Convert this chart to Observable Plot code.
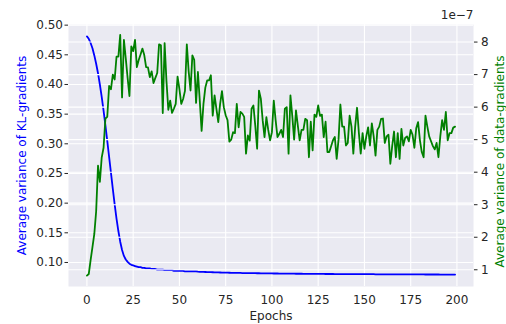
<!DOCTYPE html>
<html>
<head>
<meta charset="utf-8">
<script src="https://cdn.jsdelivr.net/npm/d3@7"></script>
<script src="https://cdn.jsdelivr.net/npm/@observablehq/plot@0.6"></script>
<style>
  html, body { margin: 0; padding: 0; background: #ffffff; }
  #chart { position: relative; width: 506px; height: 324px; }
  #chart svg { position: absolute; left: 0; top: 0; }
</style>
</head>
<body>
<div id="chart"></div>
<script>
// Average variance of the KL-term gradients per epoch (left axis)
const klVariance = [
  0.481,0.477,0.470,0.461,0.449,0.435,0.419,0.400,0.379,0.356,
  0.331,0.305,0.278,0.251,0.224,0.198,0.174,0.153,0.135,0.121,
  0.111,0.105,0.101,0.098,0.096,0.095,0.094,0.093,0.092,0.092,
  0.091,0.091,0.090,0.090,0.090,0.089,0.089,0.089,0.088,0.088,
  0.088,0.088,0.087,0.087,0.087,0.087,0.087,0.086,0.086,0.086,
  0.086,0.086,0.086,0.085,0.085,0.085,0.085,0.085,0.085,0.085,
  0.0845,0.0843,0.0842,0.0840,0.0839,0.0838,0.0837,0.0836,0.0835,0.0834,
  0.0833,0.0832,0.0831,0.0830,0.0829,0.0829,0.0828,0.0827,0.0826,0.0826,
  0.0825,0.0824,0.0824,0.0823,0.0822,0.0822,0.0821,0.0821,0.0820,0.0820,
  0.0819,0.0819,0.0818,0.0818,0.0817,0.0817,0.0816,0.0816,0.0816,0.0815,
  0.0815,0.0814,0.0814,0.0814,0.0813,0.0813,0.0813,0.0812,0.0812,0.0812,
  0.0811,0.0811,0.0811,0.0810,0.0810,0.0810,0.0810,0.0809,0.0809,0.0809,
  0.0809,0.0808,0.0808,0.0808,0.0808,0.0807,0.0807,0.0807,0.0807,0.0806,
  0.0806,0.0806,0.0806,0.0806,0.0805,0.0805,0.0805,0.0805,0.0805,0.0804,
  0.0804,0.0804,0.0804,0.0804,0.0803,0.0803,0.0803,0.0803,0.0803,0.0803,
  0.0802,0.0802,0.0802,0.0802,0.0802,0.0802,0.0801,0.0801,0.0801,0.0801,
  0.0801,0.0801,0.0800,0.0800,0.0800,0.0800,0.0800,0.0800,0.0800,0.0799,
  0.0799,0.0799,0.0799,0.0799,0.0799,0.0799,0.0798,0.0798,0.0798,0.0798,
  0.0798,0.0798,0.0798,0.0797,0.0797,0.0797,0.0797,0.0797,0.0797,0.0797,
  0.0797,0.0796,0.0796,0.0796,0.0796,0.0796,0.0796,0.0796,0.0796,0.0796
];

// Average variance of the data-term gradients per epoch, in units of 1e-7 (right axis)
const dataVariance = [
  0.82,0.87,1.30,1.70,2.10,2.80,4.20,3.70,4.45,4.75,
  5.65,5.70,6.65,6.55,7.00,6.85,7.55,7.55,8.22,6.30,
  8.07,7.50,6.90,6.34,7.87,7.72,8.07,7.23,7.45,7.62,
  7.80,7.60,7.23,7.22,6.92,7.10,6.74,6.90,7.05,7.93,
  7.90,5.82,7.97,6.80,5.92,6.20,5.82,5.95,6.10,6.94,
  6.55,6.10,6.25,6.50,7.93,7.10,6.51,7.59,7.45,6.13,
  7.08,6.20,5.27,6.10,6.60,6.82,6.82,6.98,5.74,6.36,
  5.95,5.54,6.10,6.49,6.00,5.75,5.60,4.94,5.00,5.23,
  5.20,6.10,5.38,5.85,5.80,5.70,4.57,5.13,4.97,5.95,
  6.05,5.43,4.72,6.51,6.26,5.60,5.08,5.69,5.30,4.98,
  5.23,6.20,5.60,5.08,5.18,5.30,5.08,5.95,6.00,4.57,
  6.36,5.73,5.00,5.90,5.43,4.98,5.30,5.30,5.64,5.60,
  4.46,5.55,4.67,5.77,5.70,6.05,5.73,5.77,5.08,5.55,
  4.62,4.62,4.80,4.98,5.08,4.41,5.00,6.08,5.40,5.40,
  4.82,4.90,5.74,5.40,4.57,5.40,5.98,5.20,4.57,5.20,
  4.72,5.10,5.38,4.82,5.50,5.10,4.51,5.30,5.40,5.64,
  5.65,4.90,5.10,5.15,4.26,4.80,5.25,4.46,5.20,4.41,
  5.33,4.82,5.05,5.10,4.95,5.30,5.15,4.75,5.35,5.54,
  4.98,4.62,4.46,5.74,5.40,5.10,4.95,4.80,4.70,4.90,
  4.46,5.10,5.60,5.30,5.85,4.98,5.20,5.20,5.37,5.40
];

const epochTicks = [0, 25, 50, 75, 100, 125, 150, 175, 200];
const klTicks = [0.10, 0.15, 0.20, 0.25, 0.30, 0.35, 0.40, 0.45, 0.50];
const dataTicks = [1, 2, 3, 4, 5, 6, 7, 8];

const klRows = klVariance.map((v, i) => ({epoch: i, value: v}));
const dataRows = dataVariance.map((v, i) => ({epoch: i, value: v}));

const W = 506, H = 324;
const margins = {marginLeft: 68, marginRight: 33, marginTop: 24, marginBottom: 38};
const xScale = {domain: [-9.95, 208.95]};
const font = {fontFamily: "DejaVu Sans", fontSize: "12px", color: "#262626", background: "transparent", overflow: "visible"};
const ink = "#262626";
const fs = 12;

// Base layer: grey panel, its grid, the KL curve and the left axis
const base = Plot.plot({
  width: W, height: H, ...margins,
  style: font,
  x: {...xScale},
  y: {domain: [0.0595, 0.5011]},
  marks: [
    Plot.frame({fill: "#EAEAF2", stroke: null}),
    Plot.gridX(epochTicks, {stroke: "#ffffff", strokeOpacity: 1, strokeWidth: 1.1}),
    Plot.gridY(klTicks, {stroke: "#ffffff", strokeOpacity: 1, strokeWidth: 1.1}),
    Plot.line(klRows, {x: "epoch", y: "value", stroke: "#0000ff", strokeWidth: 1.8}),
    Plot.axisX(epochTicks, {tickSize: 0, tickPadding: 9, label: null, fill: ink, fontSize: fs}),
    Plot.axisY(klTicks, {tickSize: 3.5, tickPadding: 2, tickFormat: ".2f", label: null, stroke: ink, fill: ink, fontSize: fs}),
    Plot.text(["Average variance of KL-gradients"], {frameAnchor: "left", rotate: -90, dx: -46, fill: "#0000ff", textAnchor: "middle", fontSize: fs}),
    Plot.text(["Epochs"], {frameAnchor: "bottom", dy: 30, fill: ink, lineAnchor: "middle", fontSize: fs})
  ]
});

// Twin layer: right axis, its grid and the data-gradient curve
const twin = Plot.plot({
  width: W, height: H, ...margins,
  style: font,
  x: {...xScale, axis: null},
  y: {domain: [0.486, 8.54]},
  marks: [
    Plot.gridY(dataTicks, {stroke: "#ffffff", strokeOpacity: 1, strokeWidth: 1.1}),
    Plot.line(dataRows, {x: "epoch", y: "value", stroke: "#008000", strokeWidth: 1.8}),
    Plot.axisY(dataTicks, {anchor: "right", tickSize: 3.5, tickPadding: 4, label: null, stroke: ink, fill: ink, fontSize: fs}),
    Plot.text(["1e\u22127"], {frameAnchor: "top-right", dy: -9, fill: ink, textAnchor: "end", lineAnchor: "middle", fontSize: fs}),
    Plot.text(["Average variance of data-gradients"], {frameAnchor: "right", rotate: -90, dx: 27, dy: 6, fill: "#008000", textAnchor: "middle", fontSize: fs})
  ]
});

const chart = document.getElementById("chart");
chart.appendChild(base);
chart.appendChild(twin);
</script>
</body>
</html>
